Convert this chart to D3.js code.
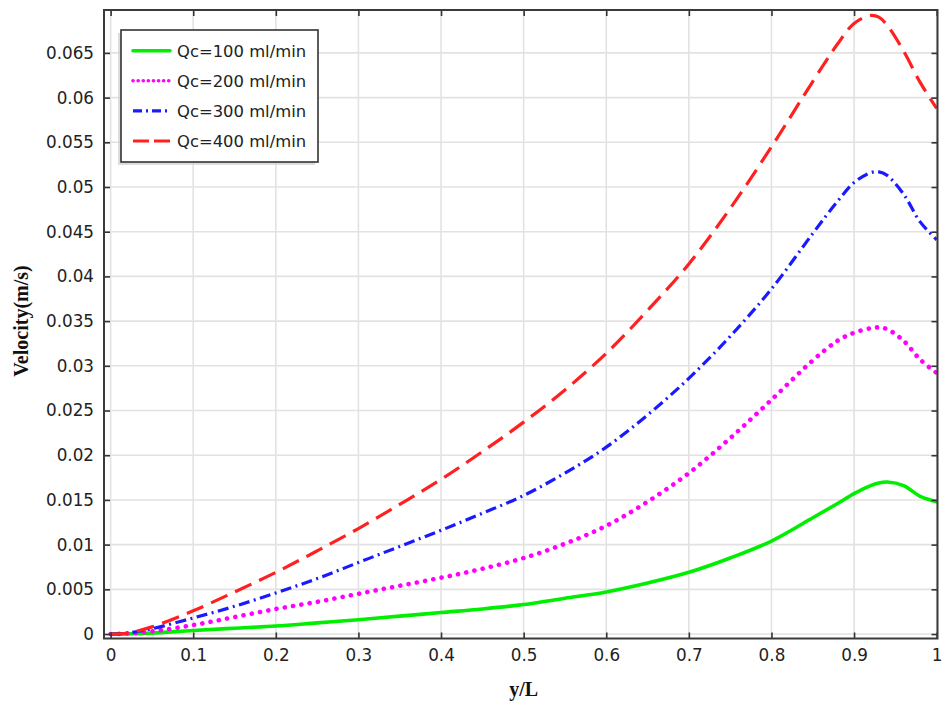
<!DOCTYPE html>
<html>
<head>
<meta charset="utf-8">
<script src="https://cdn.jsdelivr.net/npm/d3@7/dist/d3.min.js"></script>
<style>
  html, body { margin: 0; padding: 0; background: #fff; }
  svg { display: block; }
</style>
</head>
<body>
<svg id="chart" width="942" height="704"></svg>
<script>
// ---------------- data ----------------
const xValues = [0, 0.02, 0.05, 0.1, 0.15, 0.2, 0.25, 0.3, 0.35, 0.4, 0.45, 0.5, 0.55, 0.6, 0.65, 0.7, 0.75, 0.8, 0.85, 0.88, 0.9, 0.92, 0.93, 0.94, 0.96, 0.98, 1.0];
const q100 = [0, 0.00002, 0.0001, 0.0004, 0.00065, 0.0009, 0.00125, 0.0016, 0.0020, 0.0024, 0.0028, 0.0033, 0.0040, 0.0047, 0.0057, 0.0069, 0.0085, 0.0104, 0.0130, 0.0146, 0.0157, 0.0166, 0.0169, 0.0170, 0.0166, 0.0154, 0.0148];
const q200 = [0, 0.00005, 0.0003, 0.0010, 0.0019, 0.0028, 0.0036, 0.0045, 0.0054, 0.0063, 0.0073, 0.0085, 0.0101, 0.0121, 0.0148, 0.0180, 0.0219, 0.0262, 0.0306, 0.0328, 0.0337, 0.0342, 0.0343, 0.0341, 0.0328, 0.0307, 0.0292];
const q300 = [0, 0.0001, 0.0006, 0.0018, 0.0031, 0.0046, 0.0062, 0.0080, 0.0098, 0.0116, 0.0135, 0.0155, 0.0180, 0.0209, 0.0245, 0.0286, 0.0333, 0.0386, 0.0448, 0.0484, 0.0505, 0.0516, 0.0517, 0.0513, 0.0492, 0.0461, 0.0441];
const q400 = [0, 0.0001, 0.0008, 0.0026, 0.0047, 0.0069, 0.0093, 0.0118, 0.0145, 0.0173, 0.0204, 0.0237, 0.0273, 0.0314, 0.0362, 0.0414, 0.0476, 0.0545, 0.0618, 0.0660, 0.0683, 0.0692, 0.0690, 0.0681, 0.0652, 0.0617, 0.0588];
const seriesNames = ["Qc=100 ml/min", "Qc=200 ml/min", "Qc=300 ml/min", "Qc=400 ml/min"];
const xTicks = [0, 0.1, 0.2, 0.3, 0.4, 0.5, 0.6, 0.7, 0.8, 0.9, 1];
const xTickLabels = ["0", "0.1", "0.2", "0.3", "0.4", "0.5", "0.6", "0.7", "0.8", "0.9", "1"];
const yTicks = [0, 0.005, 0.01, 0.015, 0.02, 0.025, 0.03, 0.035, 0.04, 0.045, 0.05, 0.055, 0.06, 0.065];
const yTickLabels = ["0", "0.005", "0.01", "0.015", "0.02", "0.025", "0.03", "0.035", "0.04", "0.045", "0.05", "0.055", "0.06", "0.065"];
const xTitle = "y/L";
const yTitle = "Velocity(m/s)";

// ---------------- styles ----------------
const styles = [
  { color: "#00ee00", dash: null, width: 3.6, cap: "round" },
  { color: "#ff00ff", dash: "0.1 8.3", width: 4.6, cap: "round" },
  { color: "#1a1aff", dash: "11 4.5 2 4.5", width: 3.2, cap: "butt" },
  { color: "#ff2020", dash: "18 8.5", width: 3.2, cap: "butt" }
];
const seriesData = [q100, q200, q300, q400];

const svg = d3.select("#chart");
const pLeft = 104, pRight = 937.5, pTop = 10, pBottom = 638.5;

const x = d3.scaleLinear().domain([-0.008, 1.001]).range([pLeft, pRight]);
const y = d3.scaleLinear().domain([-0.0005, 0.0698]).range([pBottom, pTop]);

// grid
const grid = svg.append("g");
grid.selectAll("line.gx").data(xTicks).enter().append("line")
  .attr("x1", d => x(d)).attr("x2", d => x(d))
  .attr("y1", pTop).attr("y2", pBottom)
  .attr("stroke", "#e2e2e2").attr("stroke-width", 1.6);
grid.selectAll("line.gy").data(yTicks).enter().append("line")
  .attr("y1", d => y(d)).attr("y2", d => y(d))
  .attr("x1", pLeft).attr("x2", pRight)
  .attr("stroke", "#e2e2e2").attr("stroke-width", 1.6);

// curves
svg.append("clipPath").attr("id", "clip").append("rect")
  .attr("x", pLeft).attr("y", pTop).attr("width", pRight - pLeft).attr("height", pBottom - pTop);
const line = d3.line().x(d => x(d[0])).y(d => y(d[1])).curve(d3.curveCatmullRom.alpha(0.5));
const curves = svg.append("g").attr("clip-path", "url(#clip)");
seriesData.forEach((vals, i) => {
  const pts = xValues.map((xv, j) => [xv, vals[j]]);
  const s = styles[i];
  curves.append("path").datum(pts)
    .attr("d", line)
    .attr("fill", "none")
    .attr("stroke", s.color)
    .attr("stroke-width", s.width)
    .attr("stroke-linecap", s.cap)
    .attr("stroke-linejoin", "round")
    .attr("stroke-dasharray", s.dash);
});

// axes with inward ticks
const tickColor = "#333";
const xAxisB = d3.axisBottom(x).tickValues(xTicks).tickSize(-6).tickPadding(11)
  .tickFormat((d, i) => xTickLabels[i]);
const yAxisL = d3.axisLeft(y).tickValues(yTicks).tickSize(-6).tickPadding(10)
  .tickFormat((d, i) => yTickLabels[i]);
const xAxisT = d3.axisTop(x).tickValues(xTicks).tickSize(-6).tickFormat("");
const yAxisR = d3.axisRight(y).tickValues(yTicks).tickSize(-6).tickFormat("");

function styleAxis(g) {
  g.select(".domain").remove();
  g.selectAll(".tick line").attr("stroke", tickColor).attr("stroke-width", 1.6);
  g.selectAll(".tick text")
    .attr("fill", "#222")
    .style("font-family", "'DejaVu Sans', sans-serif")
    .style("font-size", "16.8px");
}
svg.append("g").attr("transform", `translate(0,${pBottom})`).call(xAxisB).call(styleAxis);
svg.append("g").attr("transform", `translate(${pLeft},0)`).call(yAxisL).call(styleAxis);
svg.append("g").attr("transform", `translate(0,${pTop})`).call(xAxisT).call(styleAxis);
svg.append("g").attr("transform", `translate(${pRight},0)`).call(yAxisR).call(styleAxis);

// frame
svg.append("rect")
  .attr("x", pLeft).attr("y", pTop).attr("width", pRight - pLeft).attr("height", pBottom - pTop)
  .attr("fill", "none").attr("stroke", "#3a3a3a").attr("stroke-width", 2);

// axis titles
svg.append("text")
  .attr("x", (x(0) + x(1)) / 2).attr("y", 696)
  .attr("text-anchor", "middle")
  .style("font-family", "'Liberation Serif', 'Times New Roman', serif")
  .style("font-weight", "bold").style("font-size", "20px")
  .attr("fill", "#111")
  .text(xTitle);
svg.append("text")
  .attr("transform", "translate(28,321) rotate(-90)")
  .attr("text-anchor", "middle")
  .style("font-family", "'Liberation Serif', 'Times New Roman', serif")
  .style("font-weight", "bold").style("font-size", "20px")
  .attr("fill", "#111")
  .text(yTitle);

// legend
const lg = svg.append("g");
const lx = 121, ly = 30, lw = 197, lh = 132;
lg.append("rect").attr("x", lx - 3).attr("y", ly + 3).attr("width", lw).attr("height", lh)
  .attr("fill", "#cfcfcf").attr("opacity", 0.7);
lg.append("rect").attr("x", lx).attr("y", ly).attr("width", lw).attr("height", lh)
  .attr("fill", "#fff").attr("stroke", "#333").attr("stroke-width", 1.6);
seriesNames.forEach((name, i) => {
  const cy = 50.7 + i * 30.1;
  const s = styles[i];
  lg.append("line")
    .attr("x1", 133).attr("x2", 170).attr("y1", cy).attr("y2", cy)
    .attr("stroke", s.color).attr("stroke-width", i === 1 ? 3.6 : s.width)
    .attr("stroke-linecap", s.cap)
    .attr("stroke-dasharray", i === 3 ? "16 5" : (i === 2 ? "9 4 2 4" : (i === 1 ? "0.1 5" : s.dash)));
  lg.append("text")
    .attr("x", 177).attr("y", cy + 6)
    .style("font-family", "'DejaVu Sans', sans-serif")
    .style("font-size", "16.4px")
    .attr("fill", "#222")
    .text(name);
});
</script>
</body>
</html>
